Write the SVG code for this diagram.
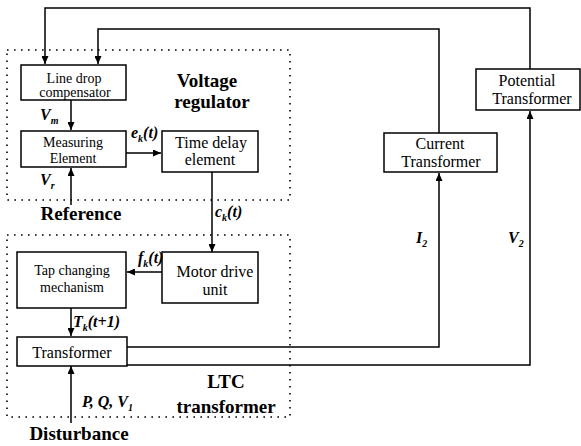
<svg xmlns="http://www.w3.org/2000/svg" width="581" height="446" viewBox="0 0 581 446">
<defs>
<marker id="ar" markerUnits="userSpaceOnUse" markerWidth="9" markerHeight="7" refX="8" refY="3.5" orient="auto">
<path d="M0,0 L8,3.5 L0,7 z" fill="#000"/>
</marker>
</defs>
<g id="regions" fill="none" stroke="#000" stroke-width="1.6" stroke-dasharray="1.6 5.4">
<rect x="7" y="50" width="283" height="150"/>
<rect x="7" y="235" width="283" height="182"/>
</g>
<g id="connectors" fill="none" stroke="#000" stroke-width="1.5">
<path d="M530,69 V8 H45 V64" marker-end="url(#ar)"/>
<path d="M439,133 V29 H98 V64" marker-end="url(#ar)"/>
<path d="M71,100 V130" marker-end="url(#ar)"/>
<path d="M71,205 V168" marker-end="url(#ar)"/>
<path d="M126,153 H161" marker-end="url(#ar)"/>
<path d="M212,172 V252" marker-end="url(#ar)"/>
<path d="M162,272 H127" marker-end="url(#ar)"/>
<path d="M71,308 V336" marker-end="url(#ar)"/>
<path d="M71,423 V366" marker-end="url(#ar)"/>
<path d="M127,347 H439 V173" marker-end="url(#ar)"/>
<path d="M127,365 H530 V111" marker-end="url(#ar)"/>
</g>
<g id="ldc">
<rect x="21" y="65" width="105" height="35" fill="#fff" stroke="#000" stroke-width="1.5"/>
<text x="74" y="83" font-family="Liberation Serif" font-size="14" text-anchor="middle">Line drop</text>
<text x="75" y="97" font-family="Liberation Serif" font-size="14" text-anchor="middle">compensator</text>
</g>
<g id="measuring">
<rect x="21" y="131" width="105" height="36" fill="#fff" stroke="#000" stroke-width="1.5"/>
<text x="73" y="147" font-family="Liberation Serif" font-size="14" text-anchor="middle">Measuring</text>
<text x="73" y="163" font-family="Liberation Serif" font-size="14" text-anchor="middle">Element</text>
</g>
<g id="timedelay">
<rect x="162" y="131" width="96" height="41" fill="#fff" stroke="#000" stroke-width="1.5"/>
<text x="211" y="148" font-family="Liberation Serif" font-size="16" text-anchor="middle">Time delay</text>
<text x="210" y="165" font-family="Liberation Serif" font-size="16" text-anchor="middle">element</text>
</g>
<g id="motor">
<rect x="162" y="252" width="96" height="51" fill="#fff" stroke="#000" stroke-width="1.5"/>
<text x="215" y="277" font-family="Liberation Serif" font-size="16" text-anchor="middle">Motor drive</text>
<text x="215" y="295" font-family="Liberation Serif" font-size="16" text-anchor="middle">unit</text>
</g>
<g id="tap">
<rect x="17" y="252" width="109" height="56" fill="#fff" stroke="#000" stroke-width="1.5"/>
<text x="72" y="275" font-family="Liberation Serif" font-size="14" text-anchor="middle">Tap changing</text>
<text x="72" y="292" font-family="Liberation Serif" font-size="14" text-anchor="middle">mechanism</text>
</g>
<g id="transformer">
<rect x="17" y="337" width="110" height="29" fill="#fff" stroke="#000" stroke-width="1.5"/>
<text x="72" y="358" font-family="Liberation Serif" font-size="16" text-anchor="middle">Transformer</text>
</g>
<g id="ct">
<rect x="384" y="133" width="113" height="39" fill="#fff" stroke="#000" stroke-width="1.5"/>
<text x="440" y="149" font-family="Liberation Serif" font-size="16" text-anchor="middle">Current</text>
<text x="441" y="167" font-family="Liberation Serif" font-size="16" text-anchor="middle">Transformer</text>
</g>
<g id="pt">
<rect x="476" y="69" width="104" height="41" fill="#fff" stroke="#000" stroke-width="1.5"/>
<text x="527" y="86" font-family="Liberation Serif" font-size="16" text-anchor="middle">Potential</text>
<text x="532" y="104" font-family="Liberation Serif" font-size="16" text-anchor="middle">Transformer</text>
</g>
<g id="headings">
<text x="207" y="87" font-family="Liberation Serif" font-size="19" font-weight="bold" text-anchor="middle">Voltage</text>
<text x="212" y="108" font-family="Liberation Serif" font-size="19" font-weight="bold" text-anchor="middle">regulator</text>
<text x="81" y="220" font-family="Liberation Serif" font-size="19" font-weight="bold" text-anchor="middle">Reference</text>
<text x="226" y="388" font-family="Liberation Serif" font-size="19" font-weight="bold" text-anchor="middle">LTC</text>
<text x="226" y="413" font-family="Liberation Serif" font-size="19" font-weight="bold" text-anchor="middle">transformer</text>
<text x="79" y="440" font-family="Liberation Serif" font-size="19" font-weight="bold" text-anchor="middle">Disturbance</text>
</g>
<g id="signals">
<text x="40" y="120" font-family="Liberation Serif" font-size="16" font-weight="bold" font-style="italic">V<tspan font-size="10" dy="4">m</tspan></text>
<text x="40" y="185" font-family="Liberation Serif" font-size="16" font-weight="bold" font-style="italic">V<tspan font-size="10" dy="4">r</tspan></text>
<text x="131" y="138" font-family="Liberation Serif" font-size="16" font-weight="bold" font-style="italic">e<tspan font-size="10" dy="4">k</tspan><tspan dy="-4">(t)</tspan></text>
<text x="215" y="217" font-family="Liberation Serif" font-size="16" font-weight="bold" font-style="italic">c<tspan font-size="10" dy="4">k</tspan><tspan dy="-4">(t)</tspan></text>
<text x="138" y="263" font-family="Liberation Serif" font-size="16" font-weight="bold" font-style="italic">f<tspan font-size="10" dy="4">k</tspan><tspan dy="-4">(t)</tspan></text>
<text x="73" y="327" font-family="Liberation Serif" font-size="16" font-weight="bold" font-style="italic">T<tspan font-size="10" dy="4">k</tspan><tspan dy="-4">(t+1)</tspan></text>
<text x="82" y="407" font-family="Liberation Serif" font-size="16" font-weight="bold" font-style="italic">P, Q, V<tspan font-size="10" dy="4">1</tspan></text>
<text x="416" y="243" font-family="Liberation Serif" font-size="16" font-weight="bold" font-style="italic">I<tspan font-size="10" dy="4">2</tspan></text>
<text x="508" y="243" font-family="Liberation Serif" font-size="16" font-weight="bold" font-style="italic">V<tspan font-size="10" dy="4">2</tspan></text>
</g>
</svg>
